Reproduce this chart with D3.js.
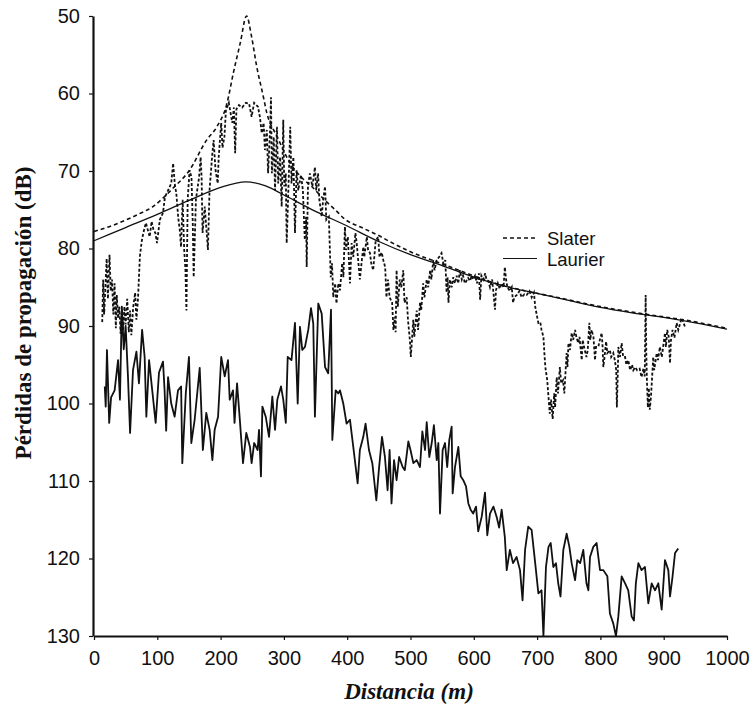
<!DOCTYPE html>
<html>
<head>
<meta charset="utf-8">
<script src="https://cdn.jsdelivr.net/npm/d3@7"></script>
<style>
  body { margin: 0; background: #fff; }
  svg { display: block; }
</style>
</head>
<body>
<svg id="chart" width="755" height="715"></svg>
<script>
// Axis ticks
const xTicks = [0, 100, 200, 300, 400, 500, 600, 700, 800, 900, 1000];
const yTicks = [50, 60, 70, 80, 90, 100, 110, 120, 130];

// Legend entries
const legendNames = ["Slater", "Laurier"];

// Laurier model (smooth)
const laurierDist = [0, 50, 100, 150, 200, 240, 270, 300, 350, 400, 450, 500, 550, 600, 650, 700, 750, 800, 850, 900, 950, 1000];
const laurierLoss = [79.0, 77.3, 75.6, 73.8, 72.1, 71.4, 71.9, 73.1, 75.2, 77.1, 79.1, 80.8, 82.2, 83.7, 84.9, 85.8, 86.7, 87.6, 88.3, 88.9, 89.6, 90.4];

// Slater model (smooth, with the peak near 240 m)
const slaterDist = [0, 30, 51, 72, 93, 109, 125, 150, 178, 194, 210, 220, 231, 241, 249, 257, 267.5, 273, 289, 310, 330, 344, 365, 381, 396, 423, 449, 467, 494, 520, 541, 573, 626, 678, 731, 800, 873, 931, 1000];
const slaterLoss = [77.8, 77.0, 76.3, 75.5, 74.6, 73.5, 72.2, 70.0, 66.0, 64.3, 61.3, 57.4, 53.5, 50.0, 52.7, 56.5, 60.4, 62.5, 65.5, 69.0, 71.0, 72.0, 73.8, 75.0, 76.2, 77.3, 78.3, 79.1, 80.2, 81.1, 81.7, 82.7, 84.3, 85.4, 86.3, 87.5, 88.5, 89.2, 90.3];

// Slater model, detailed (dashed, fluctuating)
const slaterDetailDist = [13, 14.5, 16, 18, 20, 22, 24.5, 26.5, 28.5, 30.5, 32.5, 34.5, 36, 38, 40, 42, 44, 46, 48, 50, 52.5, 55, 57, 59, 62, 65, 67, 69.5, 72.5, 75.5, 78.5, 82, 85, 88, 91, 94, 97, 99.5, 104, 109, 112, 117, 122, 125, 128, 130, 133, 135.5, 137.5, 140, 142.5, 144.5, 146, 148, 151, 154, 156, 157.5, 161, 166, 168.5, 170, 171.5, 175, 180, 182.5, 187, 189, 192, 195.5, 197, 201, 203, 206, 208.5, 213, 218.5, 221, 223, 225, 229, 234, 240, 245, 249, 253, 259, 262, 265, 268, 270, 273, 275, 278, 279.6, 281, 284, 286, 289, 291, 294, 296.5, 299, 300.6, 303, 304.4, 308, 310, 312, 315, 317.5, 320, 322.7, 327, 330, 333, 335, 336, 338, 341, 345, 349, 351, 354, 356, 359.7, 362, 365, 367, 371, 374, 376, 378, 381, 383, 386, 388.6, 392, 394, 396.4, 398, 401, 404.4, 407, 409.6, 413, 415, 420, 422, 425.4, 427, 431, 433, 436, 438, 441, 445, 449, 451, 454.5, 457, 460, 462, 464.5, 467, 471, 473, 475.5, 476.5, 478, 480, 483, 485.5, 488.6, 490.5, 494, 496, 499, 500.5, 504.4, 506, 509.8, 512, 515, 517, 520, 522, 525.6, 528, 531, 533, 536, 538, 541.4, 546, 549, 552, 555, 557, 558.5, 560, 562, 565, 567.6, 570, 573, 575.5, 578, 581, 583, 586, 591, 594, 596.7, 599, 602, 605, 608, 610, 612, 615, 618, 620, 623, 625.6, 629, 631, 633.5, 635, 638, 641, 644, 647, 649, 651, 653, 657, 660, 662, 664, 668, 672, 675.7, 680, 683.5, 688, 691.5, 695, 697, 700, 702, 705, 707, 710, 711.5, 713, 716, 720, 722, 724.6, 727, 728.5, 731, 733, 736, 738, 741, 743, 746.6, 748, 749.5, 752, 754.6, 757, 760, 762, 765, 767, 770.5, 772, 775, 778, 780, 782.5, 784, 786, 789, 791.5, 793, 796.7, 798.5, 802, 803.5, 804.6, 806, 809, 811, 815, 817, 820.4, 823, 825, 826, 827.5, 828.3, 831, 833.6, 836, 839, 841, 844, 847, 850, 852, 855, 858, 862, 865, 868, 870, 871.5, 872.5, 873.5, 875, 876.5, 878, 880, 883.5, 885, 889, 891, 894, 897, 902, 903.5, 905.6, 908, 910, 911.5, 914, 917, 920.5, 923, 928.4, 931, 934];
const slaterDetailLoss = [89.5, 84, 88.5, 85, 81.3, 86.5, 80.8, 85.5, 84, 88.5, 84.5, 90.3, 86, 89, 87.5, 91, 88, 90.5, 87.5, 89.8, 86.5, 90.8, 88, 91.2, 87.5, 85.7, 89.2, 86.5, 81, 79, 77.8, 76.7, 77.6, 78.5, 76.5, 77.6, 78, 79.3, 76.3, 75.4, 73.4, 72.5, 71.6, 69, 72, 72.8, 76, 77.6, 79.8, 73.7, 80.2, 82.8, 88, 73.7, 69.9, 70.8, 76.7, 83.7, 73.7, 70.8, 68.2, 70.8, 78, 74.6, 80.2, 72.5, 67.7, 66, 69.9, 71.6, 68.2, 63.8, 67, 65.6, 62.1, 61.2, 63.8, 61.8, 67.7, 62, 61.5, 61.8, 61.2, 61.3, 63, 61.2, 61.7, 63, 65.1, 63.8, 67.3, 64.7, 70.3, 65, 60.5, 70.3, 65.6, 72.5, 64.3, 71.6, 68.2, 74.6, 63.4, 72, 70.3, 79.3, 70, 64.3, 71.6, 68.2, 78, 69.9, 72.5, 70.5, 72.5, 78.9, 75.9, 82.4, 72, 70.3, 72, 69.5, 72.5, 70.3, 73.7, 75.9, 73.7, 72, 76.3, 75.9, 83.7, 81.9, 86.3, 84.5, 87.1, 84.5, 85.4, 81.9, 83.7, 77.2, 80.2, 78.5, 84.5, 79.3, 81.1, 78, 79.3, 84, 82.4, 79.8, 81.1, 78.5, 80.2, 80.6, 81.9, 82.8, 79, 78.5, 81.1, 80.5, 81.5, 82.4, 86.3, 84, 86.3, 87, 90.5, 88.8, 90.8, 82.8, 87.5, 84, 85, 82.8, 87, 86.3, 89.2, 91.8, 94, 89.2, 91.4, 88, 90.5, 87, 87.9, 84.5, 86.3, 84, 85, 82.8, 84, 81.5, 82.8, 81.5, 81, 80.6, 82, 81.5, 85.7, 83.7, 87, 84, 85, 83.7, 84.5, 83.5, 84.5, 82.8, 84, 83.5, 84.5, 83.8, 84.2, 83.5, 84, 83.5, 84.5, 83.2, 86.6, 83.5, 84, 83.2, 84, 84.2, 85, 84, 85.7, 87.9, 85.4, 84.5, 85.2, 84.5, 85, 82.4, 84, 85, 85.5, 85, 87, 86.3, 86, 85.5, 86.3, 85.9, 86, 85.5, 86.3, 85.7, 87.5, 88.8, 89.6, 89.5, 90.5, 91.4, 93.5, 95.3, 97, 101.3, 99.5, 102, 98.7, 100.5, 96.6, 98.7, 95.3, 97.4, 97, 98.7, 93.5, 95.3, 92.2, 93.1, 90.9, 91.8, 90.5, 91.4, 92.2, 91.4, 94.4, 91.8, 93, 94, 93.1, 89.6, 91.8, 90.5, 91.4, 94.4, 92.7, 92.7, 92, 90.9, 92.7, 95.3, 94.4, 92, 93.5, 93.1, 94, 93.5, 94.5, 95.7, 100.5, 96, 92.7, 94, 92.2, 94, 94, 95, 94.4, 95.7, 95, 95.7, 95.3, 95.7, 95.5, 96.6, 95.5, 96.5, 86, 93.5, 97, 100.5, 98, 100.8, 99, 94, 95.7, 93.5, 94.4, 92.7, 94, 90.9, 92.7, 90.5, 91.4, 94.8, 91.8, 90.5, 91.5, 89.6, 90.5, 89, 89.5, 90.2];

// Measured losses (solid, fluctuating)
const measuredDist = [17, 18.5, 20.5, 24, 27, 32.6, 38, 41, 44, 47, 50, 53.7, 57, 61.6, 67, 71, 76, 80, 82.7, 87, 92, 97.4, 102.7, 109, 111.5, 114, 117, 122, 127.4, 132.7, 137.6, 139.5, 145, 150, 153.7, 159, 167, 172, 177.4, 182.7, 187, 190.6, 196, 201, 206.5, 211.7, 214.4, 219.6, 222, 226, 230, 235.4, 240.6, 246.4, 249, 253, 258.5, 260.7, 263.8, 266, 271.3, 276.5, 281.7, 286, 289.6, 295.4, 299, 303, 306, 312, 317.5, 321.8, 325.4, 329, 333.3, 338.5, 342.8, 346.4, 349, 354.3, 359.7, 365, 370, 374.4, 376.5, 381.8, 386, 388.6, 393.8, 399, 404.4, 409.6, 416.5, 420, 425.4, 429, 434.4, 439.7, 446, 450, 455, 459.6, 463.8, 467, 470, 474, 478, 482, 487.6, 491, 496.6, 500, 504.5, 509.8, 515, 518.7, 523, 525.6, 529.7, 533.5, 537, 541.4, 544, 546.6, 550.8, 554.5, 558, 561.3, 565, 566.6, 570.3, 575.6, 579.3, 583.4, 587.7, 591.4, 595, 599, 603.5, 607, 612.5, 617.7, 621.3, 625.6, 631, 636, 640, 644, 649, 652, 657, 662, 667.6, 673, 677, 681, 686, 691.3, 697, 702, 707, 710, 714, 718, 721.5, 725.6, 729.8, 733.4, 737, 741.4, 746.7, 751, 754.6, 760, 763.5, 768, 773, 778, 781, 783.6, 788.8, 794, 799.4, 804.6, 811, 815, 820.4, 824.6, 828.3, 833.6, 839, 844, 849.4, 853, 856, 860, 865, 870.4, 875.7, 881, 886.3, 891.5, 896.8, 902, 907.3, 910, 914, 917.9, 923];
const measuredLoss = [97.8, 100.4, 93.1, 102.5, 99.2, 98.3, 94.4, 99.5, 87.5, 93, 90, 96.6, 103.8, 95.7, 93.3, 97.4, 90.5, 94, 101.7, 94.4, 98.3, 102.5, 96, 94.6, 98.3, 103.5, 96.6, 100, 101.7, 98.3, 97.8, 107.7, 98.7, 94, 105.1, 102.1, 95.4, 106, 101.2, 103.4, 107.3, 103.4, 101.7, 94, 96.5, 94.4, 99.5, 98.3, 102.5, 97.4, 101.7, 107.7, 103.8, 105.6, 107.7, 105.1, 106, 103.4, 109.4, 100.4, 101.7, 104.3, 99.1, 103.4, 99.5, 97.8, 99.5, 102.5, 94, 94.4, 89.6, 100, 90.1, 93.1, 92.7, 90.5, 87.7, 89.7, 101.7, 87.1, 88.4, 95.3, 96.1, 87.9, 104.7, 98.3, 98.7, 98.3, 100, 102.6, 102.1, 105.6, 110.3, 106, 104.3, 102.6, 106, 107.7, 112.5, 108.6, 104.3, 106.9, 111.2, 106, 112.9, 107.3, 109.9, 106.9, 108.2, 108.6, 104.9, 106, 107.7, 107.3, 108.2, 103.6, 106, 102.4, 106.9, 105.1, 102.8, 107.3, 105.1, 114.2, 106, 105.1, 108.2, 104.7, 103, 111.6, 108.2, 105.6, 109.4, 109.9, 110.7, 112.9, 113.7, 114.2, 113.3, 116.5, 114.6, 111.5, 117, 114.2, 113.3, 114.6, 116, 113.7, 117.2, 121.5, 118.9, 120.6, 119.8, 121.5, 125.4, 118.9, 115.9, 116.3, 120.6, 124.5, 124.1, 130, 121.1, 118.5, 118, 121.1, 120.6, 123.2, 124.9, 118.9, 116.8, 118.5, 120.6, 122.8, 120.2, 120.6, 118.9, 123.2, 124.1, 119.8, 118.5, 118, 121.5, 121.5, 122.3, 127.1, 128.4, 130, 127.5, 122.3, 123.2, 124.1, 127.5, 128, 123.2, 120.6, 121.5, 121.1, 125.8, 123.2, 124.1, 123.2, 126.6, 120.2, 121.5, 124.9, 122.3, 119.3, 118.7];

const svg = d3.select("#chart");
const ink = "#111";

const x = d3.scaleLinear().domain([0, 1000]).range([94, 727]);
const y = d3.scaleLinear().domain([50, 130]).range([16, 636]);

const zip = (xs, ys) => xs.map((d, i) => [d, ys[i]]);

const smooth = d3.line().x(d => x(d[0])).y(d => y(d[1])).curve(d3.curveMonotoneX);
const jagged = d3.line().x(d => x(d[0])).y(d => y(d[1]));

// Measured curve
svg.append("path")
  .attr("d", jagged(zip(measuredDist, measuredLoss)))
  .attr("fill", "none").attr("stroke", ink).attr("stroke-width", 1.8)
  .attr("stroke-linejoin", "round");

// Slater detailed curve
svg.append("path")
  .attr("d", jagged(zip(slaterDetailDist, slaterDetailLoss)))
  .attr("fill", "none").attr("stroke", ink).attr("stroke-width", 1.8)
  .attr("stroke-dasharray", "3,2");

// Slater smooth curve
svg.append("path")
  .attr("d", smooth(zip(slaterDist, slaterLoss)))
  .attr("fill", "none").attr("stroke", ink).attr("stroke-width", 1.6)
  .attr("stroke-dasharray", "4,3");

// Laurier smooth curve
svg.append("path")
  .attr("d", smooth(zip(laurierDist, laurierLoss)))
  .attr("fill", "none").attr("stroke", ink).attr("stroke-width", 1.3);

// Axes
const axisFont = "'Liberation Sans', Arial, sans-serif";

const gy = svg.append("g")
  .attr("transform", `translate(${x(0) - 1},0)`)
  .call(d3.axisLeft(y).tickValues(yTicks).tickFormat(d3.format("d"))
    .tickSize(4).tickSizeOuter(0).tickPadding(9));
const gx = svg.append("g")
  .attr("transform", `translate(0,${y(130)})`)
  .call(d3.axisBottom(x).tickValues(xTicks).tickFormat(d3.format("d"))
    .tickSize(4).tickSizeOuter(0).tickPadding(11));

[gx, gy].forEach(g => {
  g.select(".domain").attr("stroke", ink).attr("stroke-width", 2.2);
  g.selectAll(".tick line").attr("stroke", ink).attr("stroke-width", 1.2);
  g.selectAll(".tick text")
    .attr("fill", ink)
    .style("font-family", axisFont)
    .style("font-size", "20px");
});

// Axis titles
const titleFont = "'Liberation Serif', 'Times New Roman', serif";
svg.append("text")
  .attr("transform", `translate(23,313) rotate(-90)`)
  .attr("text-anchor", "middle")
  .attr("dominant-baseline", "central")
  .style("font-family", titleFont)
  .style("font-weight", "bold")
  .style("font-size", "23px")
  .attr("fill", ink)
  .text("Pérdidas de propagación (dB)");

svg.append("text")
  .attr("x", 409).attr("y", 699)
  .attr("text-anchor", "middle")
  .style("font-family", titleFont)
  .style("font-weight", "bold")
  .style("font-style", "italic")
  .style("font-size", "23px")
  .attr("fill", ink)
  .text("Distancia (m)");

// Legend
const legend = svg.append("g").attr("transform", "translate(503,238)");
legendNames.forEach((name, i) => {
  const row = legend.append("g").attr("transform", `translate(0,${i * 20.5})`);
  row.append("line")
    .attr("x1", 0).attr("x2", 34).attr("y1", 0).attr("y2", 0)
    .attr("stroke", ink)
    .attr("stroke-width", i === 0 ? 1.6 : 1)
    .attr("stroke-dasharray", i === 0 ? "4,3" : null);
  row.append("text")
    .attr("x", 44).attr("y", 7)
    .style("font-family", axisFont)
    .style("font-size", "18.5px")
    .attr("fill", ink)
    .text(name);
});
</script>
</body>
</html>
